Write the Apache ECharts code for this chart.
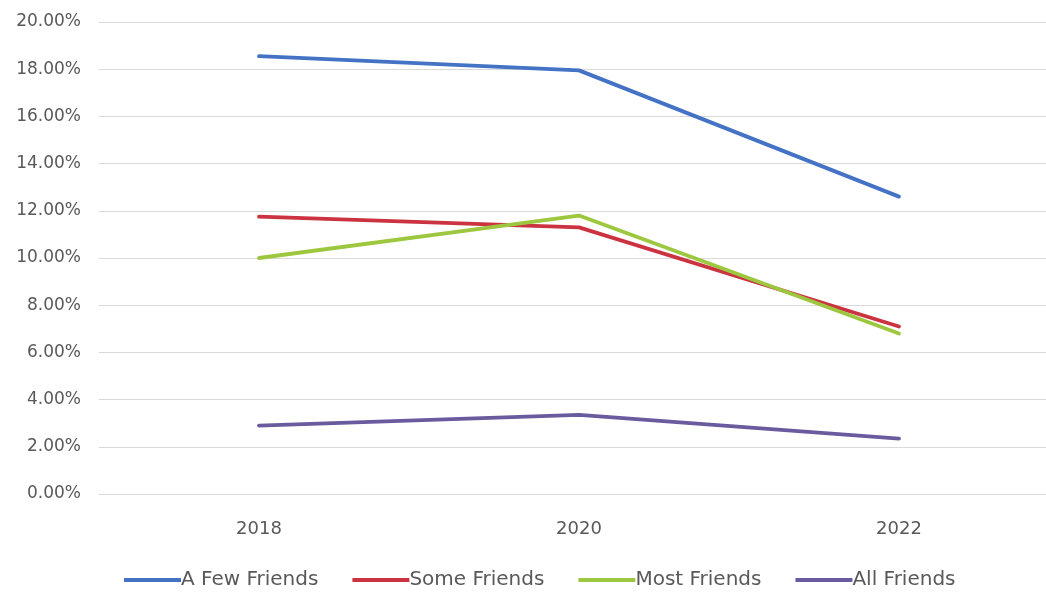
<!DOCTYPE html>
<html>
<head>
<meta charset="utf-8">
<script src="https://cdn.jsdelivr.net/npm/echarts@6/dist/echarts.min.js"></script>
<style>
  html, body { margin: 0; padding: 0; background: #ffffff; }
  #chart { width: 1046px; height: 593px; }
</style>
</head>
<body>
<div id="chart"></div>
<script>
// Survey years
const years = ['2018', '2020', '2022'];

// Share of respondents (percent) by group
const aFewFriends = [18.55, 17.95, 12.6];
const someFriends = [11.75, 11.3, 7.1];
const mostFriends = [10.0, 11.8, 6.8];
const allFriends = [2.9, 3.35, 2.35];

const seriesNames = ['A Few Friends', 'Some Friends', 'Most Friends', 'All Friends'];
const seriesColors = ['#4472C4', '#CC3340', '#9DC73F', '#6A5A9E'];
const seriesData = [aFewFriends, someFriends, mostFriends, allFriends];

const FONT = "'DejaVu Sans', sans-serif";

const chart = echarts.init(document.getElementById('chart'));

chart.setOption({
  animation: false,
  backgroundColor: '#ffffff',
  textStyle: { fontFamily: FONT },
  grid: { left: 99, width: 960, top: 22, bottom: 99, outerBoundsMode: 'none', containLabel: false },
  xAxis: {
    type: 'category',
    data: years,
    boundaryGap: true,
    axisLine: { show: false },
    axisTick: { show: false },
    axisLabel: { color: '#595959', fontFamily: FONT, fontSize: 18, margin: 26 }
  },
  yAxis: {
    type: 'value',
    min: 0,
    max: 20,
    interval: 2,
    axisLine: { show: false },
    axisTick: { show: false },
    splitLine: { lineStyle: { color: '#d9d9d9', width: 1 } },
    axisLabel: {
      color: '#595959',
      fontFamily: FONT,
      fontSize: 17,
      margin: 18,
      formatter: v => v.toFixed(2) + '%'
    }
  },
  legend: {
    bottom: 3,
    left: 124,
    padding: 0,
    icon: 'rect',
    itemWidth: 57,
    itemHeight: 4,
    itemGap: 34,
    textStyle: { color: '#595959', fontFamily: FONT, fontSize: 20, padding: [0, 0, 0, -5] },
    data: seriesNames
  },
  series: seriesNames.map((name, i) => ({
    name: name,
    type: 'line',
    data: seriesData[i],
    symbol: 'none',
    lineStyle: { width: 3.8, color: seriesColors[i], cap: 'round', join: 'round' },
    itemStyle: { color: seriesColors[i] }
  }))
});
</script>
</body>
</html>
